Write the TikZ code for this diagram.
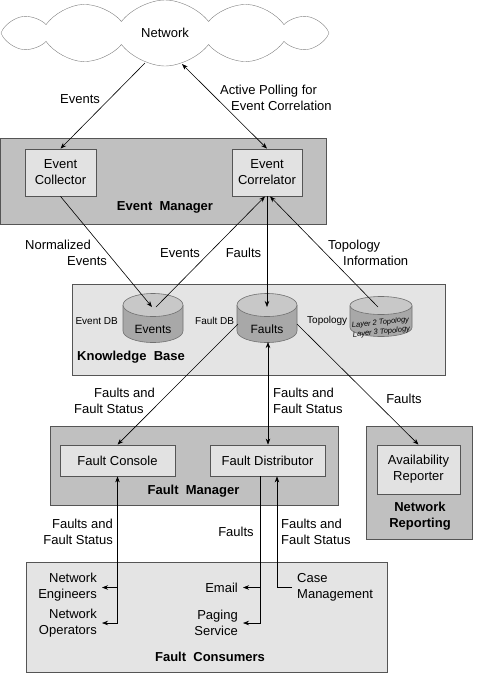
\documentclass[tikz,border=0pt]{standalone}
\usepackage{fontspec}
\setmainfont{Liberation Sans}
\usetikzlibrary{shapes.symbols,arrows.meta}
\definecolor{dark}{HTML}{C0C0C0}
\definecolor{light}{HTML}{E4E4E4}
\definecolor{inner}{HTML}{E2E2E2}
\definecolor{edge}{HTML}{555555}
\definecolor{cylbody}{HTML}{A8A8A8}
\definecolor{cyltop}{HTML}{C8C8C8}
\definecolor{cylline}{HTML}{707070}
\newcommand\dbcyl[5]{%
  \fill[cylbody] ({#1-#3},#2) -- ({#1-#3},{#2+#5}) arc[start angle=180,end angle=360,x radius=#3pt,y radius=#4pt] -- ({#1+#3},#2) -- cycle;
  \draw[cylline,line width=0.6pt] ({#1-#3},#2) -- ({#1-#3},{#2+#5}) arc[start angle=180,end angle=360,x radius=#3pt,y radius=#4pt] -- ({#1+#3},#2);
  \filldraw[fill=cyltop,draw=cylline,line width=0.6pt] (#1,#2) ellipse[x radius=#3pt,y radius=#4pt];
}
\begin{document}
\begin{tikzpicture}[x=1pt,y=-1pt,
  font=\fontsize{13}{16}\selectfont,
  box/.style={draw=edge,line width=0.8pt,inner sep=0},
  comp/.style={draw=edge,fill=inner,line width=0.8pt,align=center,inner sep=0},
  lbl/.style={inner sep=0,align=center},
  ttl/.style={inner sep=0,align=center,font=\fontsize{13}{16}\selectfont\bfseries},
  small/.style={inner sep=0,font=\fontsize{10}{12}\selectfont},
  cons/.style={inner ysep=0,inner xsep=5pt},
  arr/.style={line width=0.6pt,-{Stealth[length=6pt,width=4.5pt]}},
  arrb/.style={line width=0.6pt,{Stealth[length=6pt,width=4.5pt]}-{Stealth[length=6pt,width=4.5pt]}}]
\useasboundingbox (0,0) rectangle (500,673);

% cloud
\node[cloud,cloud puffs=12,cloud puff arc=105,aspect=5.2,draw=gray,fill=white,
      minimum width=328pt,minimum height=66pt,inner sep=0] (net) at (165,33) {Network};

% containers
\node[box,fill=dark,minimum width=326pt,minimum height=86pt] (em) at (163,181) {};
\node[box,fill=light,minimum width=373pt,minimum height=91pt] (kb) at (258.5,329.5) {};
\node[box,fill=dark,minimum width=288pt,minimum height=79pt] (fm) at (194,465.5) {};
\node[box,fill=dark,minimum width=106pt,minimum height=113pt] (nr) at (419,482.5) {};
\node[box,fill=light,minimum width=361pt,minimum height=110pt] (fcons) at (206.5,617) {};

% components
\node[comp,minimum width=71pt,minimum height=47pt] (ec) at (60.5,172.5) {Event\\Collector};
\node[comp,minimum width=70pt,minimum height=47pt] (corr) at (267,172.5) {Event\\Correlator};
\node[comp,minimum width=115pt,minimum height=31pt] (fc) at (117.5,460.5) {Fault Console};
\node[comp,minimum width=115pt,minimum height=31pt] (fd) at (267.5,460.5) {Fault Distributor};
\node[comp,minimum width=83pt,minimum height=49pt] (ar) at (418.5,469.5) {Availability\\Reporter};

% cylinders
\dbcyl{153}{305}{30}{11.5}{26}
\dbcyl{267}{305}{30}{11.5}{26}
\dbcyl{381}{305.5}{31}{9}{22}
\node[lbl,font=\fontsize{12}{14}\selectfont] (evdb) at (153,329) {Events};
\node[lbl,font=\fontsize{12}{14}\selectfont] (fdb) at (267,329) {Faults};
\node[lbl,font=\fontsize{7.5}{9.5}\selectfont\itshape,rotate=6] (topodb) at (381,327.5) {Layer 2 Topology\\Layer 3 Topology};

\coordinate (n1) at (145,63);
\coordinate (n2) at (182,64);
\coordinate (evin) at (152,307);
\coordinate (evout) at (156,307);
\coordinate (fin) at (267,307);
\coordinate (fbot) at (268,342);
\coordinate (fleft) at (238,324);
\coordinate (fright) at (297,324);
\coordinate (topo) at (378,307);

% consumers
\node[cons,anchor=east,align=right] (eng) at (102,587.5) {Network\\Engineers};
\node[cons,anchor=east,align=right] (ops) at (102,623) {Network\\Operators};
\node[cons,anchor=east,align=right] (email) at (243,587.5) {Email};
\node[cons,anchor=east,align=right] (pag) at (243,623) {Paging\\Service};
\node[cons,anchor=west,align=left] (case) at (292,587.5) {Case\\Management};

% connectors
\draw[arr] (n1) -- (ec.north);
\draw[arrb] (n2) -- (corr.north);
\draw[arr] (ec.south) -- (evin);
\draw[arr] (evout) -- ([xshift=-2pt]corr.south);
\draw[arr] (corr.south) -- (fin);
\draw[arr] (topo) -- ([xshift=3pt]corr.south);
\draw[arr] (fleft) -- (fc.north);
\draw[arrb] (fbot) -- ([xshift=0.5pt]fd.north);
\draw[arr] (fright) -- (ar.north);
\draw[arrb] (fc.south) -- (fc.south |- ops.east) -- (ops.east);
\draw[arr] (fc.south |- eng.east) -- (eng.east);
\draw[arr] ([xshift=-7.5pt]fd.south) -- ([xshift=-7.5pt]fd.south |- pag.east) -- (pag.east);
\draw[arr] ([xshift=-7.5pt]fd.south |- email.east) -- (email.east);
\draw[arr] (case.west) -| ([xshift=9.5pt]fd.south);

% labels
\node[lbl] (l1) at (80,99) {Events};
\node[lbl,anchor=west,align=left] (l2) at (220,98) {Active Polling for\\\hspace*{11pt}Event Correlation};
\node[lbl,anchor=west,align=left] (l3) at (25,253) {Normalized\\\hspace*{42pt}Events};
\node[lbl] (l4) at (180,253) {Events};
\node[lbl] (l5) at (243.5,253) {Faults};
\node[lbl,anchor=west,align=left] (l6) at (328,253) {Topology\\\hspace*{15pt}Information};
\node[lbl,anchor=west,align=left] (l7) at (74,400.5) {\hspace*{20pt}Faults and\\Fault Status};
\node[lbl,anchor=west,align=left] (l8) at (273,400.5) {Faults and\\Fault Status};
\node[lbl] (l9) at (404,399) {Faults};
\node[lbl,anchor=east,align=right] (l10) at (113,532) {Faults and\\Fault Status};
\node[lbl] (l11) at (236,532) {Faults};
\node[lbl,anchor=west,align=left] (l12) at (281,532) {Faults and\\Fault Status};

\node[small,anchor=east] (s1) at (118,321) {Event DB};
\node[small,anchor=west] (s2) at (195,321) {Fault DB};
\node[small,anchor=west] (s3) at (307,321) {Topology};

% titles
\node[ttl] (t1) at (165,207) {Event\ \ Manager};
\node[ttl,anchor=west] (t2) at (77,357) {Knowledge\ \ Base};
\node[ttl] (t3) at (193.5,491) {Fault\ \ Manager};
\node[ttl] (t4) at (420,516) {Network\\Reporting};
\node[ttl] (t5) at (210,657) {Fault\ \ Consumers};
\end{tikzpicture}
\end{document}
